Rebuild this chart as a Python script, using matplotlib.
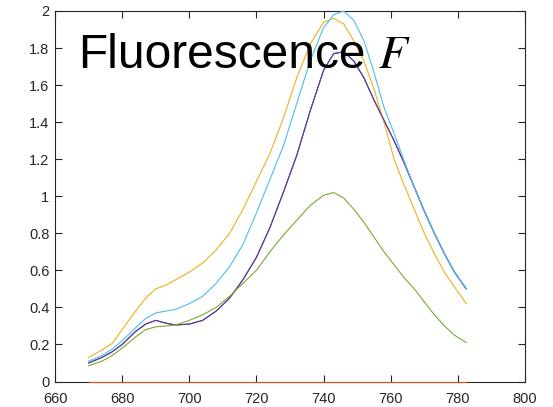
import numpy as np
import matplotlib
matplotlib.use("Agg")
import matplotlib.pyplot as plt

plt.rcParams['font.family'] = ['Liberation Sans', 'DejaVu Sans']
plt.rcParams['mathtext.fontset'] = 'stix'

# wavelength samples (nm)
wl = [670, 674, 677, 680, 684, 687, 690, 693, 696, 700, 704, 708, 712, 716,
      720, 724, 728, 732, 736, 740, 743, 746, 749, 752, 755, 758, 761, 764,
      767, 770, 773, 776, 779, 782.5]

f_blue = [0.10, 0.13, 0.16, 0.20, 0.27, 0.31, 0.33, 0.315, 0.305, 0.31, 0.33, 0.38, 0.45, 0.55,
          0.67, 0.83, 1.02, 1.22, 1.46, 1.68, 1.77, 1.78, 1.73, 1.64, 1.52, 1.41, 1.30, 1.18,
          1.05, 0.92, 0.80, 0.69, 0.59, 0.50]
f_red = [0.0] * len(wl)
f_yellow = [0.13, 0.17, 0.205, 0.28, 0.38, 0.45, 0.50, 0.52, 0.55, 0.59, 0.64, 0.71, 0.80, 0.93,
            1.08, 1.23, 1.42, 1.64, 1.82, 1.94, 1.96, 1.93, 1.84, 1.73, 1.58, 1.40, 1.20, 1.06,
            0.93, 0.80, 0.69, 0.59, 0.51, 0.42]
f_purple = [0.10, 0.13, 0.16, 0.20, 0.27, 0.31, 0.33, 0.315, 0.305, 0.31, 0.33, 0.38, 0.45, 0.55,
            0.67, 0.83, 1.02, 1.22, 1.46, 1.68, 1.77, 1.78, 1.73, 1.64, 1.52, 1.41, 1.30, 1.18,
            1.05, 0.92, 0.80, 0.69, 0.59, 0.50]
f_green = [0.085, 0.11, 0.14, 0.18, 0.24, 0.28, 0.295, 0.30, 0.305, 0.33, 0.36, 0.40, 0.46, 0.53,
           0.60, 0.70, 0.79, 0.87, 0.95, 1.005, 1.02, 0.99, 0.93, 0.86, 0.78, 0.70, 0.63, 0.56,
           0.50, 0.43, 0.36, 0.30, 0.25, 0.21]
f_lblue = [0.11, 0.14, 0.175, 0.22, 0.29, 0.34, 0.37, 0.38, 0.39, 0.42, 0.46, 0.53, 0.62, 0.74,
           0.91, 1.09, 1.27, 1.50, 1.73, 1.91, 1.98, 2.0, 1.95, 1.84, 1.67, 1.48, 1.34, 1.19,
           1.05, 0.92, 0.80, 0.69, 0.59, 0.50]

series = [f_blue, f_red, f_yellow, f_purple, f_green, f_lblue]
colors = [(0, 0.447, 0.741), (0.85, 0.325, 0.098), (0.929, 0.694, 0.125),
          (0.494, 0.184, 0.556), (0.466, 0.674, 0.188), (0.301, 0.745, 0.933)]

xticks = [660, 680, 700, 720, 740, 760, 780, 800]
yticks = [0, 0.2, 0.4, 0.6, 0.8, 1, 1.2, 1.4, 1.6, 1.8, 2]
ytick_labels = ['0', '0.2', '0.4', '0.6', '0.8', '1', '1.2', '1.4', '1.6', '1.8', '2']

fig = plt.figure(figsize=(5.53, 4.07), dpi=100)
ax = fig.add_axes([55 / 553, 1 - 381.5 / 407, 470 / 553, 370.5 / 407])

for i, (ys, c) in enumerate(zip(series, colors)):
    ax.plot(wl, ys, color=c, lw=0.8, clip_on=(i != 1), zorder=3)

ax.set_xlim(660, 800)
ax.set_ylim(0, 2)
ax.set_xticks(xticks)
ax.set_yticks(yticks)
ax.set_yticklabels(ytick_labels)

edge = (0.15, 0.15, 0.15)
for s in ax.spines.values():
    s.set_color(edge)
    s.set_linewidth(0.8)
ax.tick_params(direction='in', length=5, width=0.8, colors=edge, labelsize=10.5,
               top=True, right=True, labeltop=False, labelright=False)
ax.tick_params(axis='x', pad=7.5)
ax.tick_params(axis='y', pad=4)

# title-like label inside the axes
ax.text(666.9, 1.69, 'Fluorescence', fontsize=34.5, va='baseline', ha='left',
        color='black')
ax.text(756.3, 1.69, r'$F$', fontsize=34, va='baseline', ha='left', color='black')

fig.savefig('out.png', dpi=100)
